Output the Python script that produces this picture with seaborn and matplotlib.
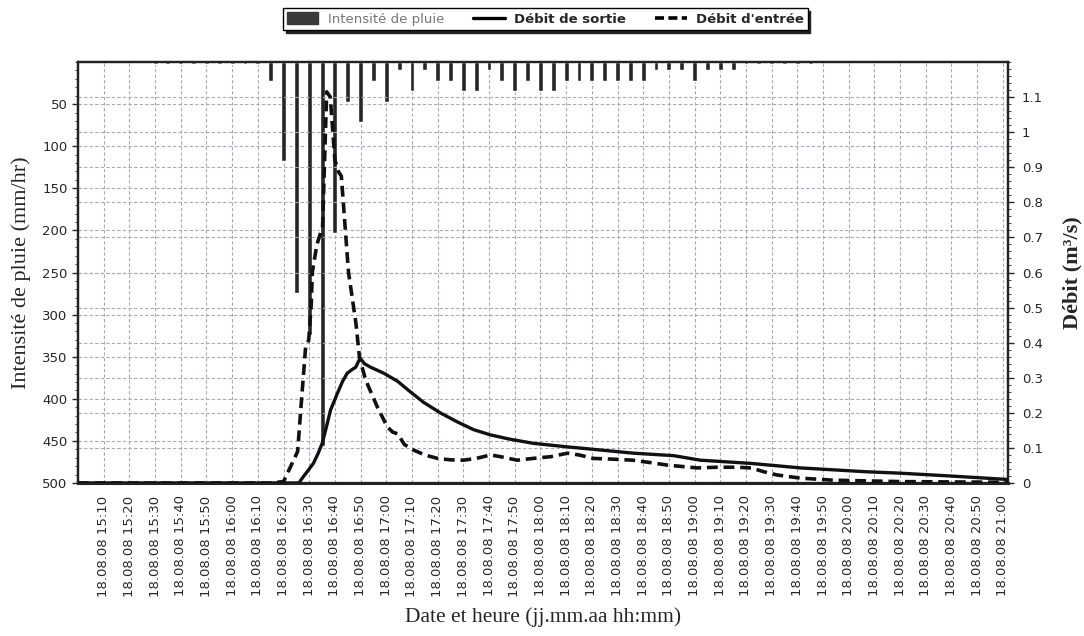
import matplotlib
matplotlib.use("Agg")
import matplotlib.pyplot as plt
import seaborn as sns
import numpy as np
from matplotlib.lines import Line2D
from matplotlib.patches import Patch
from matplotlib.ticker import MultipleLocator, FixedLocator

# ---------------- data ----------------
# rain intensity (mm/hr), 5-minute steps, times as HH:MM
rain_times = ["15:30", "15:35", "15:40", "15:45", "15:50", "15:55", "16:00", "16:05", "16:10",
              "16:15", "16:20", "16:25", "16:30", "16:35", "16:40", "16:45", "16:50", "16:55",
              "17:00", "17:05", "17:10", "17:15", "17:20", "17:25", "17:30", "17:35", "17:40",
              "17:45", "17:50", "17:55", "18:00", "18:05", "18:10", "18:15", "18:20", "18:25",
              "18:30", "18:35", "18:40", "18:45", "18:50", "18:55", "19:00", "19:05", "19:10",
              "19:15", "19:20", "19:25", "19:30", "19:35", "19:40", "19:45"]
rain_vals = [2.4, 2.4, 2.4, 2.4, 2.4, 2.4, 2.4, 2.4, 2.4,
             22, 118, 274, 324, 456, 203, 47, 71, 22,
             47, 10, 35, 10, 22, 22, 35, 35, 10,
             22, 35, 22, 35, 35, 22, 22, 22, 22,
             22, 22, 22, 10, 10, 10, 22, 10, 10,
             10, 2.4, 2.4, 2.4, 2.4, 2.4, 2.4]

# inflow (m3/s); time in minutes after 15:00
q_in_t = [0, 75, 80, 82.7, 85.5, 86.7, 88.6, 89.8, 90.8, 91.2, 93, 94.4, 95.2, 96.8, 98.2,
          100, 101.4, 102.5, 105.3, 108.1, 109.6, 112, 116.5, 120.4, 122.5, 124.5, 127,
          130.6, 135, 140, 145, 150, 155, 160.6, 164.5, 171, 177, 184, 190.5, 195, 200.7,
          208, 216, 223, 229.4, 241, 249, 256, 262, 267, 272, 281, 294, 320, 362]
q_in_v = [0, 0, 0.004, 0.046, 0.09, 0.208, 0.388, 0.407, 0.51, 0.6, 0.68, 0.712, 0.73, 1.115, 1.10,
          0.92, 0.887, 0.875, 0.6, 0.46, 0.356, 0.293, 0.217, 0.16, 0.145, 0.14, 0.11,
          0.094, 0.08, 0.07, 0.066, 0.065, 0.07, 0.08, 0.075, 0.065, 0.07, 0.075, 0.085, 0.08, 0.07,
          0.068, 0.065, 0.058, 0.051, 0.043, 0.045, 0.045, 0.043, 0.032, 0.023, 0.014, 0.008, 0.004, 0.002]

# outflow (m3/s)
q_out_t = [0, 86, 87.3, 89.5, 91.7, 93.5, 95.1, 96.7, 98.3, 101, 103, 104.8, 107, 108.1, 109.8,
           111.5, 113.9, 119, 124.4, 129, 134.5, 141, 147.7, 154, 160.6, 168, 177.3, 190.5,
           203.4, 216.2, 231.8, 242.3, 261.7, 281.2, 307, 320, 339.5, 362]
q_out_v = [0, 0, 0.014, 0.035, 0.057, 0.085, 0.114, 0.16, 0.208, 0.256, 0.29, 0.313, 0.325, 0.33, 0.356,
           0.34, 0.33, 0.313, 0.29, 0.262, 0.23, 0.2, 0.174, 0.152, 0.137, 0.125, 0.113, 0.103,
           0.094, 0.085, 0.078, 0.065, 0.056, 0.043, 0.032, 0.028, 0.02, 0.01]

xtick_times = ["15:%02d" % m for m in range(10, 60, 10)] + \
              ["%d:%02d" % (h, m) for h in range(16, 21) for m in range(0, 60, 10)] + ["21:00"]
date_prefix = "18.08.08"

legend_labels = ["Intensité de pluie", "Débit de sortie", "Débit d'entrée"]
left_label = "Intensité de pluie (mm/hr)"
right_label = "Débit (m³/s)"
x_label = "Date et heure (jj.mm.aa hh:mm)"


def to_min(s):
    h, m = s.split(":")
    return (int(h) - 15) * 60 + int(m)


# ---------------- plot ----------------
sns.set_style("white")
plt.rcParams["font.family"] = ["DejaVu Sans"]

fig = plt.figure(figsize=(10.84, 6.36), dpi=100)
ax = fig.add_axes([78 / 1084, 1 - 483 / 636, (1008 - 78) / 1084, (483 - 62) / 636])
ax2 = ax.twinx()

grid_kw = dict(color="#a9a9b6", linestyle=(0, (3, 2)), linewidth=0.8)

# rain bars on left (inverted) axis
rx = np.array([to_min(t) for t in rain_times])
ax.bar(rx, rain_vals, width=1.9, color="#262626", zorder=3)
ax.set_ylim(500, 0)
ax.set_xlim(0, 362)
ax.yaxis.set_major_locator(FixedLocator(list(range(50, 501, 50))))
ax.yaxis.set_minor_locator(MultipleLocator(10))
for yv in range(50, 500, 50):
    ax.axhline(yv, zorder=1, **grid_kw)
xt = [to_min(t) for t in xtick_times]
for xv in xt:
    ax.axvline(xv, zorder=1, **grid_kw)
ax.set_xticks(xt)
ax.set_xticklabels([f"{date_prefix} {t}" for t in xtick_times], rotation=90, fontsize=9.5)
ax.xaxis.set_minor_locator(MultipleLocator(5))
ax.tick_params(axis="y", labelsize=9.5, length=4, width=1)
ax.tick_params(axis="y", which="minor", length=2)
ax.tick_params(axis="x", length=4, width=1, pad=5)
ax.tick_params(axis="x", which="minor", length=2)

# flows on right axis
ax2.set_ylim(0, 1.2)
for yv in np.arange(0.1, 1.15, 0.1):
    ax2.axhline(yv, zorder=1, **grid_kw)
sns.lineplot(x=q_out_t, y=q_out_v, ax=ax2, color="#111111", linewidth=2.4, zorder=4)
sns.lineplot(x=q_in_t, y=q_in_v, ax=ax2, color="#111111", linewidth=2.6, zorder=5)
ax2.lines[-1].set_dashes([3, 1.6])
ax2.set_yticks(np.round(np.arange(0, 1.15, 0.1), 1))
ax2.set_yticklabels(["0", "0.1", "0.2", "0.3", "0.4", "0.5", "0.6", "0.7", "0.8", "0.9", "1", "1.1"])
ax2.yaxis.set_minor_locator(MultipleLocator(0.02))
ax2.tick_params(axis="y", labelsize=9.5, length=4, width=1, pad=6)
ax2.tick_params(axis="y", which="minor", length=2)

for a in (ax, ax2):
    for s in a.spines.values():
        s.set_color("#222222")
        s.set_linewidth(1.6)
        s.set_visible(True)
ax2.spines["bottom"].set_linewidth(2.2)

serif = ["Liberation Serif", "DejaVu Serif"]
ax.set_ylabel(left_label, family=serif, fontsize=16, labelpad=8)
ax2.set_ylabel(right_label, family=serif, fontsize=16, fontweight="bold", labelpad=14)
ax.set_xlabel(x_label, family=serif, fontsize=15.5, labelpad=8)
ax.set_zorder(ax2.get_zorder() - 1)
ax2.patch.set_visible(False)

handles = [Patch(facecolor="#3a3a3a", edgecolor="#3a3a3a"),
           Line2D([], [], color="black", lw=2.4),
           Line2D([], [], color="black", lw=2.6, dashes=[2.5, 1.2])]
leg = fig.legend(handles, legend_labels, loc="center", bbox_to_anchor=(0.503, 0.97), ncol=3,
                 fontsize=9.5, frameon=True, fancybox=False, shadow={"color": "#222222", "alpha": 1},
                 edgecolor="black", handlelength=2.4, handleheight=1.0, columnspacing=2.2,
                 borderpad=0.3, handletextpad=0.7)
leg.get_frame().set_linewidth(1.0)
texts = leg.get_texts()
texts[0].set_color("#777777")
texts[1].set_fontweight("bold")
texts[2].set_fontweight("bold")

fig.savefig("out.png", dpi=100)
